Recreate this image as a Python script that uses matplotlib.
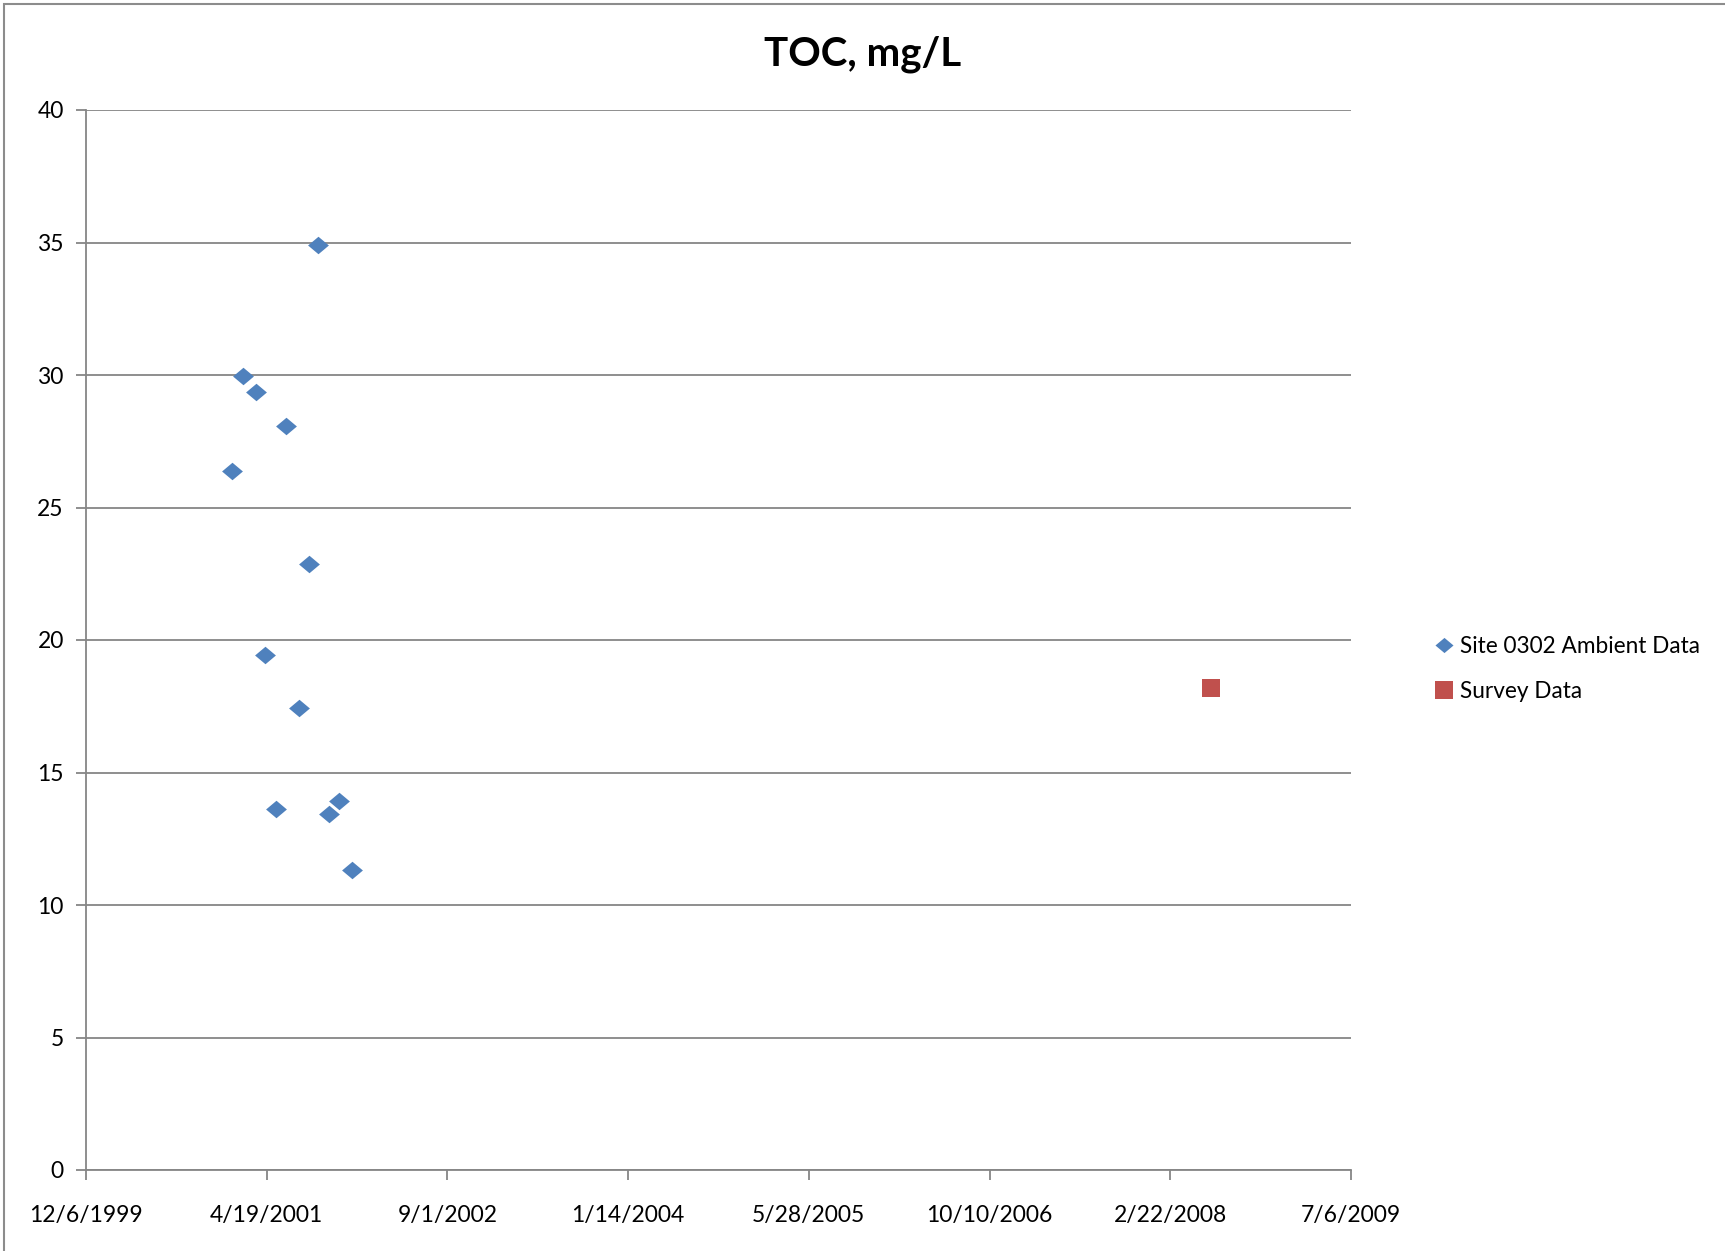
import matplotlib
matplotlib.use("Agg")
import matplotlib.pyplot as plt
import matplotlib.dates as mdates
from matplotlib.patches import Rectangle
import numpy as np
import pandas as pd

plt.rcParams['font.family'] = ['Lato', 'DejaVu Sans']

# TOC samples, site 0302 ambient monitoring
ambient_dates = ["2001-01-14", "2001-02-13", "2001-03-19", "2001-04-15",
                 "2001-05-15", "2001-06-12", "2001-07-16", "2001-08-13",
                 "2001-09-09", "2001-10-09", "2001-11-06", "2001-12-12"]
ambient_toc = [26.37, 29.98, 29.37, 19.44, 13.62, 28.07, 17.43, 22.85,
               34.92, 13.42, 13.93, 11.31]

# Survey sample
survey_dates = ["2008-06-14"]
survey_toc = [18.2]

title = "TOC, mg/L"
series_names = ["Site 0302 Ambient Data", "Survey Data"]
x_start, x_end, x_step_days = "1999-12-06", "2009-07-06", 500
y_ticks = [0, 5, 10, 15, 20, 25, 30, 35, 40]

W, H, DPI = 1725, 1251, 100
fig = plt.figure(figsize=(W / DPI, H / DPI), dpi=DPI)
ax = fig.add_axes([86 / W, 1 - 1170 / H, (1351 - 86) / W, (1170 - 110) / H])

grid_c = "#868686"
blue = "#4F81BD"
red = "#C0504D"

diamond = [(-0.5, 0.0), (0.0, 0.42), (0.5, 0.0), (0.0, -0.42), (-0.5, 0.0)]

xa = mdates.date2num(pd.to_datetime(ambient_dates))
xs = mdates.date2num(pd.to_datetime(survey_dates))
ax.plot(xa, ambient_toc, linestyle="none", marker=diamond, markersize=15,
        color=blue, markeredgewidth=0, label=series_names[0], zorder=3)
ax.plot(xs, survey_toc, linestyle="none", marker="s", markersize=13.5,
        color=red, markeredgewidth=0, label=series_names[1], zorder=3)

x0 = mdates.date2num(pd.Timestamp(x_start))
x1 = mdates.date2num(pd.Timestamp(x_end))
ax.set_xlim(x0, x1)
ax.set_ylim(0, 40)
xt = np.arange(x0, x1 + 1, x_step_days)
ax.set_xticks(xt)
ax.set_xticklabels([f"{d.month}/{d.day}/{d.year}" for d in mdates.num2date(xt)])
ax.set_yticks(y_ticks)
ax.set_yticklabels([str(v) for v in y_ticks])

ax.grid(axis="y", color=grid_c, linewidth=1.3)
ax.set_axisbelow(True)
for s in ["top", "right"]:
    ax.spines[s].set_visible(False)
for s in ["left", "bottom"]:
    ax.spines[s].set_color(grid_c)
    ax.spines[s].set_linewidth(1.3)
ax.tick_params(axis="both", colors=grid_c, labelcolor="black", labelsize=16.5,
               length=7, width=1.3, direction="out")
ax.tick_params(axis="x", pad=18)
ax.tick_params(axis="y", pad=9)

fig.text(0.5, 1 - 54 / H, title, ha="center", va="center", fontsize=29,
         fontweight="bold")

leg = fig.legend(loc="upper left", bbox_to_anchor=(1426 / W, 1 - 627 / H),
                 frameon=False, fontsize=16.3, handlelength=0.8,
                 handletextpad=0.3, labelspacing=1.05, borderaxespad=0)
for h in leg.legend_handles:
    h.set_markersize(13)

fig.patches.append(Rectangle((4 / W, -0.05), 1.2, (1 - 4 / H) + 0.05,
                             transform=fig.transFigure, fill=False,
                             edgecolor="#8c8c8c", linewidth=1.5))

fig.savefig("out.png", dpi=DPI, facecolor="white")
